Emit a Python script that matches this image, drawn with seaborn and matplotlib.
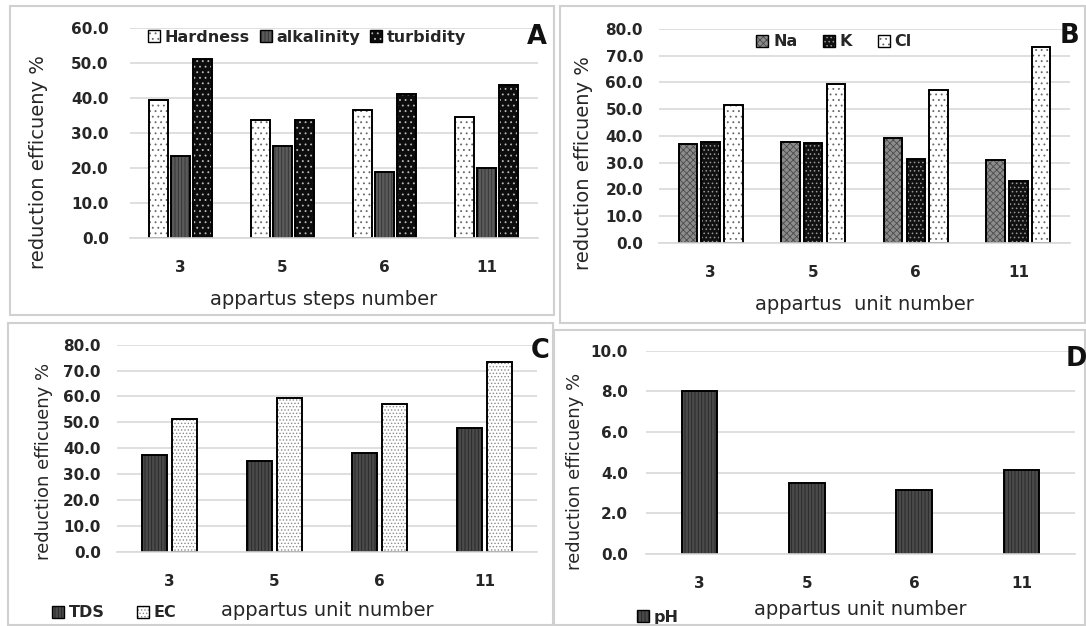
import pandas as pd
import numpy as np
import matplotlib.pyplot as plt
import matplotlib.colors as mcolors
from matplotlib.patches import Rectangle
import seaborn as sns

sns.set_theme(style='white')
plt.rcParams['font.family'] = ['DejaVu Sans']
plt.rcParams['hatch.linewidth'] = 0.6

W, H = 1086, 626

# ---- data ----
steps = ['3', '5', '6', '11']

hardness = [39.3, 33.6, 36.6, 34.5]
alkalinity = [23.2, 26.2, 18.8, 19.8]
turbidity = [51.2, 33.6, 41.1, 43.8]

na = [36.8, 37.6, 39.1, 30.8]
k = [37.8, 37.3, 31.5, 23.2]
cl = [51.4, 59.3, 57.3, 73.4]

tds = [37.2, 35.1, 38.3, 47.8]
ec = [51.4, 59.3, 57.1, 73.5]

ph = [8.03, 3.51, 3.16, 4.15]

# bar looks: facecolor, hatch, hatch colour
looks = {
    'Hardness': ('white', '...', '#666666'),
    'alkalinity': ('#5a5a5a', '|||||', '#333333'),
    'turbidity': ('#0d0d0d', '...', '#bbbbbb'),
    'Na': ('#8c8c8c', 'xxxxx', '#4a4a4a'),
    'K': ('#111111', '....', '#9a9a9a'),
    'Cl': ('white', '...', '#666666'),
    'TDS': ('#4a4a4a', '|||||', '#262626'),
    'EC': ('white', '.....', '#8a8a8a'),
    'pH': ('#4a4a4a', '|||||', '#262626'),
}

GRID = '#d9d9d9'


def long_df(series):
    rows = []
    for name, vals in series.items():
        for s, v in zip(steps, vals):
            rows.append({'step': s, 'param': name, 'value': v})
    return pd.DataFrame(rows)


def px_rect(l, t, r, b):
    return [l / W, 1 - b / H, (r - l) / W, (b - t) / H]


def style(ax, names):
    for cont, name in zip(ax.containers, names):
        fc, hatch, hc = looks[name]
        for p in cont:
            p.set_facecolor(fc)
            p.set_edgecolor('black')
            p.set_linewidth(1.4)
            p.set_hatch(hatch)
            p._hatch_color = mcolors.to_rgba(hc)


def finish(ax, ymax, ystep, ypad, ylab_xy, xlab_xy, ylab_size, xlabel):
    ax.set_ylim(0, ymax)
    ax.set_yticks(np.arange(0, ymax + 0.01, ystep))
    ax.yaxis.set_major_formatter(plt.FormatStrFormatter('%.1f'))
    ax.yaxis.grid(True, color=GRID, lw=1.2)
    ax.set_axisbelow(True)
    for s in ['left', 'right', 'top']:
        ax.spines[s].set_visible(False)
    ax.spines['bottom'].set_color(GRID)
    ax.spines['bottom'].set_linewidth(1.2)
    ax.tick_params(axis='y', length=0, pad=ypad, labelsize=11)
    ax.tick_params(axis='x', length=0, pad=16, labelsize=11)
    for t in ax.get_xticklabels() + ax.get_yticklabels():
        t.set_fontweight('bold')
        t.set_color('#262626')
    ax.set_ylabel('reduction efficueny %', fontsize=ylab_size, color='#262626')
    ax.yaxis.set_label_coords(*ylab_xy)
    ax.yaxis.label.set_va('center')
    ax.set_xlabel(xlabel, fontsize=14, color='#262626')
    ax.xaxis.set_label_coords(*xlab_xy)
    ax.xaxis.label.set_va('center')


def legend(ax, names, xy, colsp):
    leg = ax.legend(ax.containers, names, loc='center', bbox_to_anchor=xy,
                    ncol=len(names), frameon=False, handlelength=0.75,
                    handleheight=0.75, handletextpad=0.3, columnspacing=colsp,
                    prop={'weight': 'bold', 'size': 11.5}, borderaxespad=0)
    for t in leg.get_texts():
        t.set_color('#262626')
    for h in leg.legend_handles:
        h.set_linewidth(1.0)


fig = plt.figure(figsize=(W / 100, H / 100), dpi=100)

# panel frames
for (l, t, r, b) in [(10, 6, 554, 315), (560, 6, 1085, 323),
                     (8, 323, 553, 625), (554, 330, 1085, 625)]:
    fig.add_artist(Rectangle((l / W, 1 - b / H), (r - l) / W, (b - t) / H,
                             transform=fig.transFigure, fill=False,
                             ec='#d0d0d0', lw=1.5))

# ---- A ----
axA = fig.add_axes(px_rect(129.5, 28, 537.5, 237.5))
namesA = ['Hardness', 'alkalinity', 'turbidity']
dfA = long_df(dict(zip(namesA, [hardness, alkalinity, turbidity])))
sns.barplot(data=dfA, x='step', y='value', hue='param', hue_order=namesA,
            order=steps, ax=axA, width=0.656, gap=0.15, errorbar=None,
            palette=['white', 'gray', 'black'], legend=False)
style(axA, namesA)
finish(axA, 60, 10, 15, (-0.222, 0.36), (0.477, -0.298), 14,
       'appartus steps number')
legend(axA, namesA, (0.435, 0.957), 0.6)

# ---- B ----
axB = fig.add_axes(px_rect(659.3, 29, 1069.7, 242.7))
namesB = ['Na', 'K', 'Cl']
dfB = long_df(dict(zip(namesB, [na, k, cl])))
sns.barplot(data=dfB, x='step', y='value', hue='param', hue_order=namesB,
            order=steps, ax=axB, width=0.667, gap=0.19, errorbar=None,
            palette=['gray', 'black', 'white'], legend=False)
style(axB, namesB)
finish(axB, 80, 10, 11.7, (-0.184, 0.375), (0.499, -0.29), 14,
       'appartus  unit number')
legend(axB, namesB, (0.426, 0.94), 1.6)

# ---- C ----
axC = fig.add_axes(px_rect(117, 344.7, 537, 551.7))
namesC = ['TDS', 'EC']
dfC = long_df(dict(zip(namesC, [tds, ec])))
sns.barplot(data=dfC, x='step', y='value', hue='param', hue_order=namesC,
            order=steps, ax=axC, width=0.575, gap=0.19, errorbar=None,
            palette=['gray', 'white'], legend=False)
style(axC, namesC)
finish(axC, 80, 10, 11.7, (-0.174, 0.435), (0.5, -0.282), 13,
       'appartus unit number')
legend(axC, namesC, (-0.007, -0.296), 2.0)

# ---- D ----
axD = fig.add_axes(px_rect(646, 350.7, 1075, 554))
dfD = long_df({'pH': ph})
sns.barplot(data=dfD, x='step', y='value', order=steps, ax=axD, width=0.33,
            errorbar=None, color='gray')
style(axD, ['pH'])
finish(axD, 10, 2, 13, (-0.166, 0.405), (0.5, -0.275), 13,
       'appartus unit number')
legend(axD, ['pH'], (0.028, -0.31), 1.0)

# panel letters
for letter, x, y in [('A', 537, 37.5), ('B', 1069.5, 36), ('C', 540, 351),
                     ('D', 1076, 359)]:
    fig.text(x / W, 1 - y / H, letter, ha='center', va='center',
             fontsize=18.5, fontweight='bold', color='#111111')

fig.savefig('out.png', dpi=100, facecolor='white')
